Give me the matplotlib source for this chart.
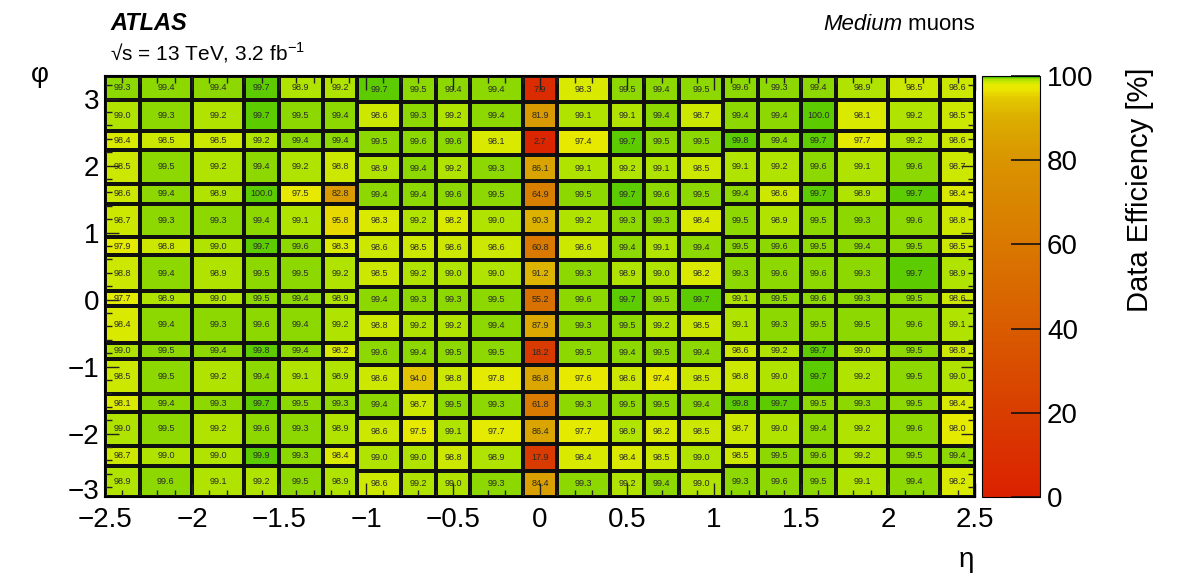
import numpy as np
import matplotlib
matplotlib.use("Agg")
import matplotlib.pyplot as plt
from matplotlib.colors import LinearSegmentedColormap
from matplotlib.ticker import AutoMinorLocator

plt.rcParams['font.family'] = ['Liberation Sans', 'DejaVu Sans']
plt.rcParams['mathtext.fontset'] = 'custom'
plt.rcParams['mathtext.rm'] = 'Liberation Sans'

# ---------------- data ----------------
eta_edges_endcap_neg = [-2.5, -2.3, -2.0, -1.7, -1.5, -1.25, -1.05]
eta_edges_barrel = [-1.05, -0.8, -0.6, -0.4, -0.1, 0.1, 0.4, 0.6, 0.8, 1.05]
eta_edges_endcap_pos = [1.05, 1.25, 1.5, 1.7, 2.0, 2.3, 2.5]

phi_edges_endcap = [-2.945, -2.48, -2.18, -1.68, -1.41, -0.89, -0.64, -0.09, 0.13,
                    0.66, 0.93, 1.43, 1.73, 2.23, 2.52, 2.98, 3.338]
phi_edges_barrel = [-2.945, -2.553, -2.160, -1.767, -1.374, -0.982, -0.589, -0.196,
                    0.196, 0.589, 0.982, 1.374, 1.767, 2.160, 2.553, 2.945, 3.338]

# rows listed from top (largest phi) to bottom (smallest phi)
eff_endcap_neg = [
    [99.3, 99.4, 99.4, 99.7, 98.9, 99.2],
    [99.0, 99.3, 99.2, 99.7, 99.5, 99.4],
    [98.4, 98.5, 98.5, 99.2, 99.4, 99.4],
    [98.5, 99.5, 99.2, 99.4, 99.2, 98.8],
    [98.6, 99.4, 98.9, 100.0, 97.5, 82.8],
    [98.7, 99.3, 99.3, 99.4, 99.1, 95.8],
    [97.9, 98.8, 99.0, 99.7, 99.6, 98.3],
    [98.8, 99.4, 98.9, 99.5, 99.5, 99.2],
    [97.7, 98.9, 99.0, 99.5, 99.4, 98.9],
    [98.4, 99.4, 99.3, 99.6, 99.4, 99.2],
    [99.0, 99.5, 99.4, 99.8, 99.4, 98.2],
    [98.5, 99.5, 99.2, 99.4, 99.1, 98.9],
    [98.1, 99.4, 99.3, 99.7, 99.5, 99.3],
    [99.0, 99.5, 99.2, 99.6, 99.3, 98.9],
    [98.7, 99.0, 99.0, 99.9, 99.3, 98.4],
    [98.9, 99.6, 99.1, 99.2, 99.5, 98.9],
]
eff_barrel = [
    [99.7, 99.5, 99.4, 99.4, 7.9, 98.3, 99.5, 99.4, 99.5],
    [98.6, 99.3, 99.2, 99.4, 81.9, 99.1, 99.1, 99.4, 98.7],
    [99.5, 99.6, 99.6, 98.1, 2.7, 97.4, 99.7, 99.5, 99.5],
    [98.9, 99.4, 99.2, 99.3, 86.1, 99.1, 99.2, 99.1, 98.5],
    [99.4, 99.4, 99.6, 99.5, 64.9, 99.5, 99.7, 99.6, 99.5],
    [98.3, 99.2, 98.2, 99.0, 90.3, 99.2, 99.3, 99.3, 98.4],
    [98.6, 98.5, 98.6, 98.6, 60.8, 98.6, 99.4, 99.1, 99.4],
    [98.5, 99.2, 99.0, 99.0, 91.2, 99.3, 98.9, 99.0, 98.2],
    [99.4, 99.3, 99.3, 99.5, 55.2, 99.6, 99.7, 99.5, 99.7],
    [98.8, 99.2, 99.2, 99.4, 87.9, 99.3, 99.5, 99.2, 98.5],
    [99.6, 99.4, 99.5, 99.5, 18.2, 99.5, 99.4, 99.5, 99.4],
    [98.6, 94.0, 98.8, 97.8, 86.8, 97.6, 98.6, 97.4, 98.5],
    [99.4, 98.7, 99.5, 99.3, 61.8, 99.3, 99.5, 99.5, 99.4],
    [98.6, 97.5, 99.1, 97.7, 86.4, 97.7, 98.9, 98.2, 98.5],
    [99.0, 99.0, 98.8, 98.9, 17.9, 98.4, 98.4, 98.5, 99.0],
    [98.6, 99.2, 99.0, 99.3, 84.4, 99.3, 99.2, 99.4, 99.0],
]
eff_endcap_pos = [
    [99.6, 99.3, 99.4, 98.9, 98.5, 98.6],
    [99.4, 99.4, 100.0, 98.1, 99.2, 98.5],
    [99.8, 99.4, 99.7, 97.7, 99.2, 98.6],
    [99.1, 99.2, 99.6, 99.1, 99.6, 98.7],
    [99.4, 98.6, 99.7, 98.9, 99.7, 98.4],
    [99.5, 98.9, 99.5, 99.3, 99.6, 98.8],
    [99.5, 99.6, 99.5, 99.4, 99.5, 98.5],
    [99.3, 99.6, 99.6, 99.3, 99.7, 98.9],
    [99.1, 99.5, 99.6, 99.3, 99.5, 98.6],
    [99.1, 99.3, 99.5, 99.5, 99.6, 99.1],
    [98.6, 99.2, 99.7, 99.0, 99.5, 98.8],
    [98.8, 99.0, 99.7, 99.2, 99.5, 99.0],
    [99.8, 99.7, 99.5, 99.3, 99.5, 98.4],
    [98.7, 99.0, 99.4, 99.2, 99.6, 98.0],
    [98.5, 99.5, 99.6, 99.2, 99.5, 99.4],
    [99.3, 99.6, 99.5, 99.1, 99.4, 98.2],
]

x_ticks = [-2.5, -2, -1.5, -1, -0.5, 0, 0.5, 1, 1.5, 2, 2.5]
y_ticks = [-3, -2, -1, 0, 1, 2, 3]
cbar_ticks = [0, 20, 40, 60, 80, 100]


def lab(t):
    return f"{t:g}".replace('-', '\u2212')


# ---------------- colour map ----------------
cmap = LinearSegmentedColormap.from_list("atlas_eff", [
    (0.00, (0.86, 0.13, 0.00)),
    (0.20, (0.85, 0.24, 0.00)),
    (0.40, (0.85, 0.36, 0.00)),
    (0.60, (0.85, 0.47, 0.00)),
    (0.80, (0.85, 0.58, 0.00)),
    (0.90, (0.86, 0.68, 0.00)),
    (0.95, (0.89, 0.79, 0.00)),
    (0.97, (0.92, 0.90, 0.00)),
    (0.98, (0.90, 0.92, 0.00)),
    (0.988, (0.81, 0.91, 0.00)),
    (0.992, (0.70, 0.89, 0.00)),
    (0.995, (0.60, 0.86, 0.00)),
    (0.998, (0.46, 0.82, 0.00)),
    (1.00, (0.36, 0.80, 0.00)),
])

W, H = 1184, 576
fig = plt.figure(figsize=(W / 100, H / 100), dpi=100)
ax = fig.add_axes([105 / W, 1 - 497 / H, 870 / W, 421 / H])

regions = [
    (eta_edges_endcap_neg, phi_edges_endcap, eff_endcap_neg),
    (eta_edges_barrel, phi_edges_barrel, eff_barrel),
    (eta_edges_endcap_pos, phi_edges_endcap, eff_endcap_pos),
]
mesh = None
for xe, ye, vals in regions:
    v = np.flipud(np.array(vals))
    mesh = ax.pcolormesh(xe, ye, v, cmap=cmap, vmin=0, vmax=100,
                         edgecolors='#101010', linewidth=1.5)
    xc = 0.5 * (np.array(xe[:-1]) + np.array(xe[1:]))
    yc = 0.5 * (np.array(ye[:-1]) + np.array(ye[1:]))
    for i, yy in enumerate(yc):
        for j, xx in enumerate(xc):
            ax.text(xx, yy, f"{v[i, j]:.1f}", ha='center', va='center',
                    fontsize=6.5, color='#2a2a2a')

ax.set_xlim(eta_edges_endcap_neg[0], eta_edges_endcap_pos[-1])
ax.set_ylim(phi_edges_barrel[0], phi_edges_barrel[-1])
ax.set_xticks(x_ticks)
ax.set_xticklabels([lab(t) for t in x_ticks])
# -3 lies just below the phi range: its label is drawn separately below
ax.set_yticks(y_ticks[1:])
ax.set_yticklabels([lab(t) for t in y_ticks[1:]])
ax.xaxis.set_minor_locator(AutoMinorLocator(5))
ax.yaxis.set_minor_locator(AutoMinorLocator(5))
ax.tick_params(which='both', direction='in', top=True, right=True, labelsize=20,
               color='#222222', width=1.0)
ax.tick_params(which='major', length=10, pad=4)
ax.tick_params(axis='x', which='major', pad=7)
ax.tick_params(which='minor', length=5)
for s in ax.spines.values():
    s.set_linewidth(1.5)
ax.annotate(lab(y_ticks[0]), xy=(0, y_ticks[0]), xycoords=ax.get_yaxis_transform(),
            xytext=(-4, 6), textcoords='offset points', ha='right', va='center',
            fontsize=20, annotation_clip=False)

# colour bar
cax = fig.add_axes([982 / W, 1 - 497 / H, 58 / W, 421 / H])
cb = fig.colorbar(mesh, cax=cax, ticks=cbar_ticks)
cb.outline.set_linewidth(0.8)
cax.tick_params(direction='in', length=21, width=1.2, labelsize=20, pad=5,
                color='#111111')

fig.text(1140 / W, 1 - 68 / H, "Data Efficiency [%]", rotation=90, ha='center',
         va='top', fontsize=21)
fig.text(40 / W, 1 - 75 / H, "\u03c6", ha='center', va='center', fontsize=20)
fig.text(966 / W, 1 - 560 / H, "\u03b7", ha='center', va='center', fontsize=20)

fig.text(110 / W, 1 - 24 / H, "ATLAS", ha='left', va='center', fontsize=17,
         fontweight='bold', fontstyle='italic')
fig.text(110 / W, 1 - 53 / H, "\u221as = 13 TeV, 3.2 fb$^{-1}$", ha='left',
         va='center', fontsize=15)
t1 = fig.text(975 / W, 1 - 25 / H, "Medium muons", ha='right', va='center',
              fontsize=16, alpha=0)
fig.canvas.draw()
bb = t1.get_window_extent()
tm = fig.text(bb.x0 / W, 1 - 25 / H, "Medium", ha='left', va='center', fontsize=16,
              fontstyle='italic')
fig.canvas.draw()
bm = tm.get_window_extent()
fig.text(bm.x1 / W, 1 - 25 / H, " muons", ha='left', va='center', fontsize=16)

fig.savefig("out.png", dpi=100)
